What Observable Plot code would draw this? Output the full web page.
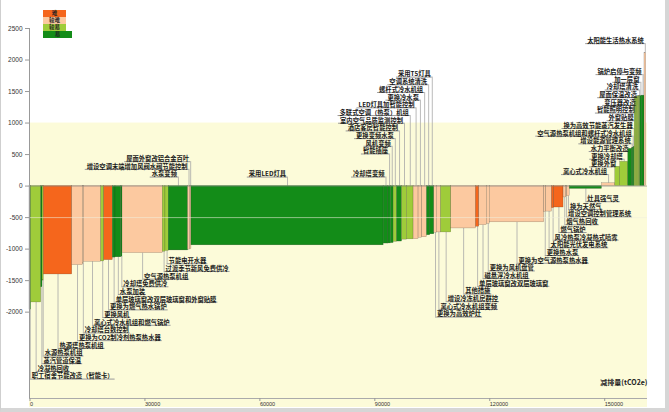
<!DOCTYPE html>
<html><head><meta charset="utf-8">
<script src="https://cdn.jsdelivr.net/npm/d3@7"></script>
<script src="https://cdn.jsdelivr.net/npm/@observablehq/plot@0.6"></script>
<style>
html,body{margin:0;padding:0;background:#fff;}
#wrap{position:relative;width:669px;height:412px;overflow:hidden;background:#fff;}
#chart{position:absolute;left:0;top:0;}
#legend{position:absolute;left:43px;top:10px;font-family:"Noto Sans CJK SC",sans-serif;font-size:5.5px;font-weight:bold;}
#legend div{height:7px;line-height:7px;text-align:center;color:#222;width:23px;}
#legend div:last-child{width:29px;}
#border{position:absolute;left:0;top:0;width:669px;height:412px;border-left:1px solid #cfcfcf;border-right:4px solid #d6d6d6;border-bottom:4px solid #d6d6d6;box-sizing:border-box;pointer-events:none;}
</style></head>
<body><div id="wrap"><div id="chart"></div><div id="legend"></div><div id="border"></div></div>
<script>
// ---------- data ----------
const names = [
"职工宿舍节能改造（智能卡）","冷凝热回收","蒸汽管道保温","水源热泵机组","热源塔热泵机组",
"更换为CO2制冷剂热泵热水器","冷却塔台数控制","离心式冷水机组和燃气锅炉","更换风机","更换为燃气热水锅炉",
"单层玻璃窗改双层玻璃窗和外窗贴膜","水泵加装","冷却塔免费供冷","空气源热泵机组","过渡季节新风免费供冷",
"节能电开水器","水泵变频","增设空调末端增加风阀水阀节能控制","屋面外窗改铝合金百叶","采用LED灯具",
"冷却塔变频","智能插座","风机变频","更换变频水泵","酒店客房智能控制",
"室内空气品质监测控制","多联式空调（热泵）机组","LED灯具加智能控制","更换冷水泵","螺杆式冷水机组",
"空调系统清洗","采用T5灯具","更换为高效炉灶","离心式冷水机组变频","增设冷冻机房群控",
"其他措施","单层玻璃窗改双层玻璃窗","磁悬浮冷水机组","更换为风机盘管","更换为空气源热泵热水器",
"更换热水泵","太阳能光伏发电系统","风冷热泵冷凝热式喷雾","燃气锅炉","烟气热回收",
"增设空调控制管理系统","换为天然气","灶具强气灵","离心式冷水机组","更换外窗",
"更换冷却塔","水力平衡改造","增设能源管理系统","空气源热泵机组和螺杆式冷水机组","换为高效节能蒸汽发生器",
"外窗贴膜","智能照明控制","变压器改造","屋面保温改造","冷却塔清洗",
"加一层窗","锅炉启停与变频","太阳能生活热水系统"];
const potential = [
400,2660,340,340,7410, 2770,260,4540,780,2240, 700,1490,340,10510,700,
860,5060,470,390,50170, 1230,650,730,890,1300, 1300,1720,1300,970,1230,
860,1040,650,1100,2690, 6440,860,1960,780,14220, 520,1490,600,2430,630,
340,650,8400,3470,1300, 2090,910,260,260,260, 260,260,260,390,260,
390,730,440];
const cost = [
-1960,-1846,-1605,-1500,-1402, -1254,-1230,-1201,-1195,-1175, -1135,-1130,-1120,-1063,-1042,
-1030,-1021,-1008,-1000,-940, -912,-910,-905,-885,-880, -850,-845,-843,-820,-812,
-780,-765,-740,-735,-735, -672,-645,-620,-600,-575, -410,-405,-350,-340,-180,
-170,-160,-45,45,306, 385,590,600,610,620, 1410,1415,1420,1425,1430,
1430,1435,2110];
const difficulty = [
"易","较易","易","较易","难", "较难","较难","较难","较易","难", "易","易","易","较难","较易",
"较易","易","较难","较难","易", "易","易","易","较易","易", "较易","较易","较难","较难","较难",
"易","易","较难","较难","较易", "较难","难","较难","较难","较难", "较难","较难","难","难","较难",
"较难","较难","易","较难","较易", "较易","易","易","易","易", "较易","较易","较易","较易","较易",
"易","易","较难"];
const levels = ["难","较难","较易","易"];
const levelColors = ["#f5661c","#fcc9a0","#9fcc3a","#138c18"];
const xTicks = [0,30000,60000,90000,120000,150000];
const yTicks = [-2000,-1500,-1000,-500,0,500,1000,1500,2000,2500];
const axisTitle = "减排量(tCO2e)";
const bandTop = 1000;

// ---------- layout ----------
const W = 669, H = 412, mL = 29, mR = 22, mT = 28, mB = 14;
const xDomain = [0, 161300], yDomain = [-3370, 2500];
const pxPerX = (W - mL - mR) / (xDomain[1] - xDomain[0]);
const cjk = '"Noto Sans CJK SC","Noto Sans CJK JP",sans-serif';
const labelSize = 6.3;

const ends = d3.cumsum(potential);
const data = names.map((n, i) => ({name: n, x0: ends[i] - potential[i], x1: ends[i], cost: cost[i], diff: difficulty[i]}));

const ctx = document.createElement("canvas").getContext("2d");
ctx.font = `600 ${labelSize}px ${cjk}`;
const textW = s => ctx.measureText(s).width;

const step = 122;
const groups = [
  {from: 0, to: 15, side: "below", base: -3062},
  {from: 16, to: 18, side: "above", base: 143},
  {from: 19, to: 19, side: "above", base: 143},
  {from: 20, to: 31, side: "above", base: 143, skip: 2},
  {from: 32, to: 47, side: "below", base: -2078},
  {from: 48, to: 61, side: "above", base: 182},
  {from: 62, to: 62, side: "above", offset: 150}
];
const labels = [];
for (const g of groups) for (let i = g.from; i <= g.to; i++) {
  const d = data[i], k = i - g.from;
  const lvl = g.skip && k > 0 ? k + g.skip : k;
  const lx = (d.x0 + d.x1) / 2;
  const w = (textW(d.name) + 3) / pxPerX;
  let ly, yEnd;
  if (g.side === "below") { ly = g.base + lvl * step; yEnd = Math.min(0, d.cost); }
  else { ly = g.offset != null ? Math.max(0, d.cost) + g.offset : g.base + lvl * step; yEnd = Math.max(0, d.cost); }
  labels.push({name: d.name, side: g.side, lx, ly, yEnd,
    u1: g.side === "below" ? lx : lx - w, u2: g.side === "below" ? lx + w : lx});
}
const below = labels.filter(d => d.side === "below");
const above = labels.filter(d => d.side === "above");

const chart = Plot.plot({
  width: W, height: H,
  marginLeft: mL, marginRight: mR, marginTop: mT, marginBottom: mB,
  style: {background: "transparent", color: "#333", fontFamily: "Liberation Sans, Arial, sans-serif"},
  x: {domain: xDomain},
  y: {domain: yDomain},
  color: {domain: levels, range: levelColors},
  marks: [
    Plot.rect([bandTop], {x1: xDomain[0], x2: xDomain[1], y1: yDomain[0], y2: d => d, fill: "#fcfbd9", insetBottom: -9}),
    Plot.ruleX(labels, {x: "lx", y1: "ly", y2: "yEnd", stroke: "#a8a8a8", strokeWidth: 0.8}),
    Plot.ruleY(labels, {y: "ly", x1: "u1", x2: "u2", stroke: "#9a9a9a", strokeWidth: 1}),
    Plot.rect(data, {x1: "x0", x2: "x1", y1: 0, y2: "cost", fill: "diff", stroke: "#222", strokeWidth: 0.4, strokeOpacity: 0.45}),
    Plot.ruleY([-500], {stroke: "#eeeedd", strokeOpacity: 0.7, strokeWidth: 0.8}),
    Plot.ruleY([0], {stroke: "#808080", strokeWidth: 0.6}),
    Plot.ruleX([xDomain[0]], {stroke: "#999"}),
    Plot.ruleY([yDomain[0]], {stroke: "#aaa"}),
    Plot.axisY({ticks: yTicks, tickSize: 4, tickPadding: 3, tickFormat: d => String(d), fontSize: 6.5, label: null, stroke: "#999"}),
    Plot.axisX({ticks: xTicks, tickSize: 3, tickPadding: 1, tickFormat: d => String(d), fontSize: 5.5, textAnchor: "start", dx: 0.5, label: null, stroke: "#999"}),
    Plot.text(below, {x: "lx", y: "ly", text: "name", textAnchor: "start", lineAnchor: "bottom", dx: 1.5, dy: -0.6,
      fontSize: labelSize, fontFamily: cjk, fontWeight: 600, fill: "#1a1a1a"}),
    Plot.text(above, {x: "lx", y: "ly", text: "name", textAnchor: "end", lineAnchor: "bottom", dx: -1.5, dy: -0.6,
      fontSize: labelSize, fontFamily: cjk, fontWeight: 600, fill: "#1a1a1a"}),
    Plot.text([axisTitle], {frameAnchor: "bottom-right", textAnchor: "end", dy: -14, fontSize: 7, fontWeight: "bold", fontFamily: cjk, fill: "#222"})
  ]
});
document.getElementById("chart").appendChild(chart);

const legend = document.getElementById("legend");
levels.forEach((l, i) => {
  const el = document.createElement("div");
  el.textContent = l;
  el.style.background = levelColors[i];
  legend.appendChild(el);
});
</script></body></html>
